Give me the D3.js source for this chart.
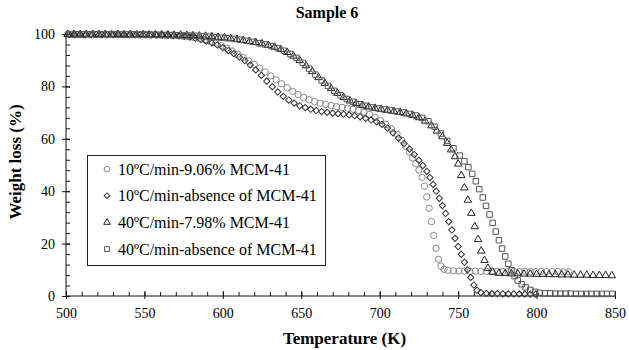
<!DOCTYPE html>
<html>
<head>
<meta charset="utf-8">
<script src="https://cdn.jsdelivr.net/npm/d3@7"></script>
<style>
	body { margin: 0; background: #fff; }
	svg { display: block; }
</style>
</head>
<body>
<script>
// Chart values: [temperature K, weight loss %]
var circles10 = [[501,99.8],[504.5,99.9],[508,99.8],[511.5,99.9],[515,99.8],[518.5,99.9],[522,99.8],[525.5,99.8],[529,99.9],[532.5,99.8],[536,99.8],[539.5,99.8],[543,99.8],[546.5,99.7],[550,99.8],[553.5,99.7],[557,99.7],[560.5,99.6],[564,99.6],[567.5,99.5],[571,99.4],[574.5,99.2],[578,99.0],[581.5,98.7],[585,98.3],[588.5,97.8],[592,97.2],[595.5,96.5],[599,95.6],[602.5,94.6],[606,93.5],[609.5,92.3],[613,91.0],[616.5,89.7],[620,88.4],[623.5,87.0],[627,85.5],[630.5,84.0],[634,82.5],[637.5,81.0],[641,79.5],[644.5,78.1],[648,76.9],[651.5,75.8],[655,74.9],[658.5,74.2],[662,73.6],[665.5,73.1],[669,72.7],[672.5,72.3],[676,72.0],[679.5,71.7],[683,71.3],[686.5,70.8],[690,70.2],[693.5,69.3],[697,68.2],[700.5,66.9],[704,65.5],[707.5,63.8],[711,61.8],[714,59.5],[716.5,57.2],[719,54.9],[721,52.7],[723,50.5],[725,48.1],[727,45.3],[728.5,41.9],[730,37.8],[731.5,33.5],[733,28.4],[734.5,23.1],[736,18.2],[737.5,14.0],[739,11.4],[741,10.2],[743.5,9.8],[747,9.6],[750.5,9.5],[754,9.5],[757.5,9.4],[761,9.5],[764.5,9.4],[768,9.4],[771.5,9.5],[775,9.4],[778.5,9.4],[782,9.3],[785.5,9.4],[789,9.3],[792.5,9.4],[796,9.3],[799.5,9.3],[803,9.4],[806.5,9.3],[810,9.3],[813.5,9.3],[817,9.2],[820.5,9.3]];

var diamonds10 = [[502,99.9],[505.5,99.8],[509,99.9],[512.5,99.8],[516,99.8],[519.5,99.9],[523,99.8],[526.5,99.8],[530,99.8],[533.5,99.9],[537,99.8],[540.5,99.8],[544,99.7],[547.5,99.8],[551,99.7],[554.5,99.7],[558,99.6],[561.5,99.6],[565,99.5],[568.5,99.4],[572,99.3],[575.5,99.1],[579,98.8],[582.5,98.4],[586,97.9],[589.5,97.3],[593,96.6],[596.5,95.8],[600,94.8],[603.5,93.7],[607,92.5],[610.5,91.2],[614,89.8],[617.5,88.2],[621,86.3],[624.5,84.2],[628,82.0],[631.5,79.9],[635,77.9],[638.5,76.2],[642,74.8],[645.5,73.6],[649,72.6],[652.5,71.9],[656,71.3],[659.5,70.8],[663,70.4],[666.5,70.1],[670,69.8],[673.5,69.6],[677,69.4],[680.5,69.1],[684,68.8],[687.5,68.4],[691,67.8],[694.5,67.2],[698,66.5],[701.5,65.5],[705,64.1],[708.5,62.3],[712,60.3],[715.5,58.2],[719,56.1],[722,54.0],[725,51.8],[727.5,49.8],[730,47.6],[732,45.2],[734,42.6],[736,40.0],[738,37.3],[740,34.5],[742,31.5],[744,28.4],[746,25.2],[748,22.0],[750,18.9],[752,15.9],[754,12.9],[756,10.0],[758,7.1],[760,4.2],[762,2.2],[764.5,1.3],[768,1.0],[771.5,0.9],[775,0.9],[778.5,0.8],[782,0.8],[785.5,0.8],[789,0.8],[792.5,0.7],[796,0.7],[799.5,0.7]];

var triangles40 = [[501,99.9],[505,99.9],[509,99.8],[513,99.9],[517,99.9],[521,99.8],[525,99.9],[529,99.8],[533,99.9],[537,99.8],[541,99.8],[545,99.8],[549,99.8],[553,99.7],[557,99.8],[561,99.7],[565,99.7],[569,99.6],[573,99.6],[577,99.5],[581,99.4],[585,99.3],[589,99.2],[593,99.0],[597,98.8],[601,98.6],[605,98.3],[609,98.0],[613,97.6],[617,97.2],[621,96.8],[625,96.3],[629,95.7],[633,95.0],[637,94.1],[641,93.0],[645,91.6],[649,89.9],[653,87.9],[657,85.7],[661,83.4],[665,81.2],[669,79.2],[673,77.4],[677,75.8],[681,74.5],[685,73.5],[689,72.8],[693,72.2],[697,71.7],[701,71.3],[705,70.9],[709,70.5],[713,70.1],[717,69.6],[721,69.0],[725,68.1],[729,66.8],[733,65.0],[736.5,63.0],[740,60.8],[743,58.3],[745.5,55.8],[748,53.2],[750,50.4],[752,46.0],[754,41.3],[756.2,36.6],[758.4,31.6],[760.6,26.5],[762.7,21.6],[764.7,17.2],[766.8,13.6],[769,10.6],[772,9.1],[776,8.7],[780,8.6],[784,8.5],[788,8.5],[792,8.4],[796,8.4],[800,8.3],[804,8.3],[808,8.2],[812,8.2],[816,8.1],[820,8.1],[824,8.0],[828,8.0],[832,8.0],[836,7.9],[840,7.9],[844,7.9],[848,7.8]];

var squares40 = [[503,99.8],[507,99.9],[511,99.8],[515,99.9],[519,99.8],[523,99.8],[527,99.9],[531,99.8],[535,99.8],[539,99.8],[543,99.8],[547,99.7],[551,99.8],[555,99.7],[559,99.7],[563,99.6],[567,99.6],[571,99.5],[575,99.4],[579,99.4],[583,99.3],[587,99.1],[591,99.0],[595,98.8],[599,98.6],[603,98.4],[607,98.1],[611,97.8],[615,97.4],[619,97.0],[623,96.5],[627,96.0],[631,95.4],[635,94.6],[639,93.6],[643,92.4],[647,90.9],[651,89.0],[655,86.8],[659,84.5],[663,82.3],[667,80.2],[671,78.3],[675,76.6],[679,75.2],[683,74.1],[687,73.2],[691,72.6],[695,72.0],[699,71.6],[703,71.2],[707,70.8],[711,70.4],[715,70.0],[719,69.5],[723,68.9],[727,68.0],[731,66.7],[735,64.6],[739,62.0],[743,59.2],[747,56.4],[751,53.6],[754,51.4],[756.5,49.2],[759,46.6],[761.3,43.8],[763.5,40.8],[765.7,37.6],[767.8,34.4],[770,31.1],[772,27.9],[774,24.6],[776,21.3],[778,18.1],[780,15.1],[782,12.3],[784,9.8],[786,7.6],[788,5.9],[790.5,4.5],[793,3.3],[796,2.3],[799,1.6],[802,1.2],[805.3,1.0],[808.6,1.0],[811.9,0.9],[815.2,0.9],[818.5,0.9],[821.8,0.9],[825.1,0.8],[828.4,0.8],[831.7,0.8],[835,0.8],[838.3,0.8],[841.6,0.8],[844.9,0.8],[848.2,0.8]];

var seriesNames = ["10ºC/min-9.06% MCM-41", "10ºC/min-absence of MCM-41", "40ºC/min-7.98% MCM-41", "40ºC/min-absence of MCM-41"];
var xTicks = [500, 550, 600, 650, 700, 750, 800, 850];
var yTicks = [0, 20, 40, 60, 80, 100];

var serif = "'Liberation Serif', 'Times New Roman', serif";

// Chart size and margins
var outerWidth = 629,
	outerHeight = 350,
	margin = { top: 34, right: 14, bottom: 54, left: 66 },
	width = outerWidth - margin.left - margin.right,
	height = outerHeight - margin.top - margin.bottom;

var xScale = d3.scaleLinear().domain([500, 850]).range([0, width]);
var yScale = d3.scaleLinear().domain([0, 100]).range([height, 0]);

// Marker styles for each series
var markers = [
	{ data: circles10, shape: d3.symbolCircle, size: 32, rotate: 0, color: "#8a8a8a" },
	{ data: diamonds10, shape: d3.symbolSquare, size: 20, rotate: 45, color: "#333" },
	{ data: triangles40, shape: d3.symbolTriangle, size: 24, rotate: 0, color: "#222" },
	{ data: squares40, shape: d3.symbolSquare, size: 30, rotate: 0, color: "#555" }
];

var svg = d3.select("body").append("svg")
		.attr("width", outerWidth)
		.attr("height", outerHeight)
		.attr("font-family", serif);

var g = svg.append("g")
		.attr("transform", "translate(" + margin.left + "," + margin.top + ")");

// Title
svg.append("text")
	.attr("x", 327)
	.attr("y", 18)
	.attr("text-anchor", "middle")
	.attr("font-size", 16)
	.attr("font-weight", "bold")
	.text("Sample 6");

// X axis: major ticks plus minor ticks every 10 K
var xMinor = g.append("g")
		.attr("transform", "translate(0," + height + ")")
		.call(d3.axisBottom(xScale).tickValues(d3.range(500, 851, 10)).tickSize(0).tickFormat(""));
xMinor.selectAll(".tick line")
	.attr("y1", 0)
	.attr("y2", -4);
xMinor.select(".domain").remove();

var xMajor = g.append("g")
		.attr("class", "x axis")
		.attr("transform", "translate(0," + height + ")")
		.call(d3.axisBottom(xScale).tickValues(xTicks).tickSize(3).tickPadding(9).tickFormat(d3.format("d")));
xMajor.selectAll(".tick line").attr("y1", -5);
xMajor.selectAll(".tick text").attr("font-size", 14).attr("font-family", serif);
xMajor.select(".domain").attr("d", "M0,0H" + width);

// Y axis: major ticks plus minor ticks every 4 %
var yMinor = g.append("g")
		.call(d3.axisLeft(yScale).tickValues(d3.range(0, 101, 4)).tickSize(0).tickFormat(""));
yMinor.selectAll(".tick line")
	.attr("x1", 0)
	.attr("x2", 4);
yMinor.select(".domain").remove();

var yMajor = g.append("g")
		.attr("class", "y axis")
		.call(d3.axisLeft(yScale).tickValues(yTicks).tickSize(4).tickPadding(7));
yMajor.selectAll(".tick line").attr("x2", 4).attr("x1", -4);
yMajor.selectAll(".tick text").attr("font-size", 14).attr("font-family", serif);
yMajor.select(".domain").attr("d", "M0," + height + "V0");

svg.selectAll(".tick line, .domain").attr("stroke", "#111");

// Axis titles
svg.append("text")
	.attr("x", margin.left + width / 2 + 4)
	.attr("y", 344)
	.attr("text-anchor", "middle")
	.attr("font-size", 17)
	.attr("font-weight", "bold")
	.text("Temperature (K)");

svg.append("text")
	.attr("transform", "translate(21," + (margin.top + height / 2 - 3) + ") rotate(-90)")
	.attr("text-anchor", "middle")
	.attr("font-size", 17)
	.attr("font-weight", "bold")
	.text("Weight loss (%)");

// Markers
markers.forEach(function (m) {
	var sym = d3.symbol().type(m.shape).size(m.size);
	g.append("g")
		.selectAll("path")
		.data(m.data)
		.enter().append("path")
			.attr("d", sym)
			.attr("transform", function (d) {
				return "translate(" + xScale(d[0]) + "," + yScale(d[1]) + ")" + (m.rotate ? " rotate(" + m.rotate + ")" : "");
			})
			.attr("fill", "none")
			.attr("stroke", m.color)
			.attr("stroke-width", 1);
});

// Legend
var legend = svg.append("g")
		.attr("transform", "translate(87,155)");

legend.append("rect")
	.attr("x", 0.5)
	.attr("y", 0.5)
	.attr("width", 238)
	.attr("height", 110)
	.attr("fill", "#fff")
	.attr("stroke", "#222")
	.attr("stroke-width", 1);

var rows = legend.selectAll("g.lgd")
		.data(markers)
		.enter().append("g")
			.attr("class", "lgd")
			.attr("transform", function (d, i) { return "translate(0," + (14 + i * 26.7) + ")"; });

rows.append("path")
	.attr("d", function (d) { return d3.symbol().type(d.shape).size(d.size * 0.8)(); })
	.attr("transform", function (d) { return "translate(20,0)" + (d.rotate ? " rotate(" + d.rotate + ")" : ""); })
	.attr("fill", "none")
	.attr("stroke", function (d) { return d.color; });

rows.append("text")
	.attr("x", 31)
	.attr("dy", "0.35em")
	.attr("font-size", 16)
	.text(function (d, i) { return seriesNames[i]; });
</script>
</body>
</html>
